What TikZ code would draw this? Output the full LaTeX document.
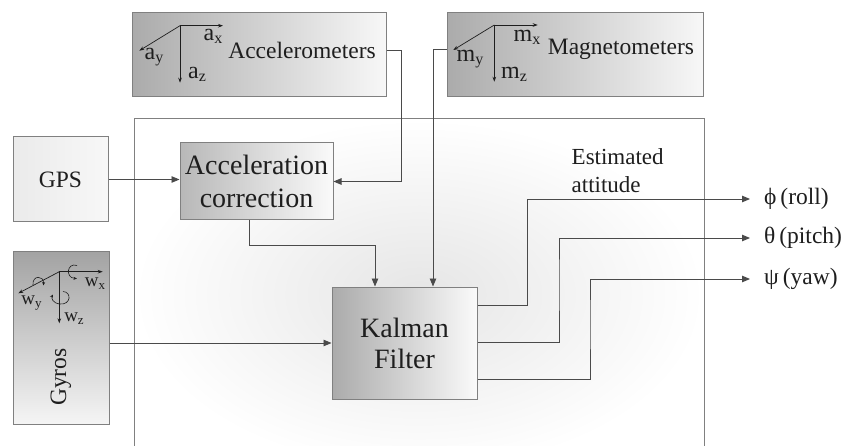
\documentclass[tikz,border=0pt]{standalone}
\usepackage{fontspec}
\setmainfont{Liberation Serif}
\newfontfamily\tnr{Liberation Serif}
\usetikzlibrary{arrows.meta}
\definecolor{bordc}{HTML}{808080}
\definecolor{linec}{HTML}{4A4A4A}
\definecolor{txtc}{HTML}{1E1E1E}
\newcommand{\axl}[3]{#1\raisebox{-3pt}{\fontsize{#3}{#3}\selectfont #2}}
\begin{document}
\begin{tikzpicture}[x=1pt,y=-1pt,
  box/.style={draw=bordc, line width=1pt, inner sep=0pt, text=txtc, align=center},
  conn/.style={draw=linec, line width=0.9pt},
  arr/.style={conn, -{Triangle[length=8pt,width=6.5pt]}},
  axisarr/.style={draw=txtc, line width=0.7pt, -{Stealth[length=5pt,width=3.6pt]}},
  rotarr/.style={draw=txtc, line width=0.6pt, -{Stealth[length=3.5pt,width=3pt]}},
  lbl/.style={text=txtc, inner sep=0pt},
  bigfont/.style={font=\tnr\fontsize{23.5}{28}\selectfont},
  axlab/.style={lbl, font=\tnr\fontsize{24}{24}\selectfont},
  gylab/.style={lbl, font=\tnr\fontsize{19}{19}\selectfont},
]
\useasboundingbox (0,0) rectangle (848,446);
\fill[white] (0,0) rectangle (848,446);

% large background frame
\shade[inner color=black!10, outer color=white] (134,119) rectangle (704,470);
\draw[draw=bordc, line width=1pt] (134,470) -- (134,119) -- (704,119) -- (704,470);

% sensor boxes
\node[box, minimum width=254pt, minimum height=84pt, left color=black!33, right color=black!3] (acc) at (259,55) {};
\node[box, minimum width=256pt, minimum height=84pt, left color=black!33, right color=black!3] (mag) at (575,55) {};
\node[box, minimum width=95pt, minimum height=85pt, left color=black!8, right color=black!3, bigfont] (gps) at (60.5,179.5) {GPS};
\node[box, minimum width=96pt, minimum height=172pt, top color=black!36, bottom color=black!4] (gyro) at (61,338) {};
\node[box, minimum width=153pt, minimum height=77pt, left color=black!28, right color=black!2, font=\tnr\fontsize{28}{33}\selectfont] (accorr) at (256.5,181.5) {Acceleration\\correction};
\node[box, minimum width=145pt, minimum height=112pt, left color=black!33, right color=black!2, font=\tnr\fontsize{28}{31}\selectfont] (kal) at (404.5,343) {Kalman\\Filter};

% box texts
\node[lbl, bigfont] (acctxt) at (302,50) {Accelerometers};
\node[lbl, bigfont] (magtxt) at (621,49) {Magnetometers};
\node[lbl, bigfont, rotate=90] (gytxt) at (61,377) {Gyros};
\node[lbl, font=\tnr\fontsize{23}{28}\selectfont, align=left, anchor=west] (est) at (571.5,171) {Estimated\\attitude};

% accelerometer axes
\coordinate (ao) at (180,25.7);
\draw[axisarr] (ao) -- (223,25.7);
\draw[axisarr] (ao) -- (139.3,50.7);
\draw[axisarr] (ao) -- (180,82.7);
\node[axlab] (ax) at (213,36) {\axl{a}{x}{16}};
\node[axlab] (ay) at (154,57) {\axl{a}{y}{16}};
\node[axlab] (az) at (197,74) {\axl{a}{z}{16}};

% magnetometer axes
\coordinate (mo) at (494.3,25);
\draw[axisarr] (mo) -- (537.7,25);
\draw[axisarr] (mo) -- (453.3,50);
\draw[axisarr] (mo) -- (494.3,81.7);
\node[axlab] (mx) at (527,37) {\axl{m}{x}{16}};
\node[axlab] (my) at (470,59) {\axl{m}{y}{16}};
\node[axlab] (mz) at (514,74) {\axl{m}{z}{16}};

% gyro axes
\coordinate (go) at (59.3,271.7);
\draw[axisarr] (go) -- (102.7,271.7);
\draw[axisarr] (go) -- (18.3,293.3);
\draw[axisarr] (go) -- (59.3,323.3);
\draw[rotarr] (77,265.5) .. controls (67,262) and (65,278) .. (77,278.5);
\draw[rotarr] (33,285) .. controls (32,275) and (44,275) .. (43.5,285.5);
\draw[rotarr] (63,291.5) .. controls (72,292) and (71,305) .. (60,304) .. controls (53,303.5) and (51,298) .. (53,294.5);
\node[gylab] (wx) at (95,284) {\axl{w}{x}{13}};
\node[gylab] (wy) at (31.5,303) {\axl{w}{y}{13}};
\node[gylab] (wz) at (74,319) {\axl{w}{z}{13}};

% output labels
\node[lbl, bigfont, anchor=west] (roll) at (764,199) {ϕ\,(roll)};
\node[lbl, bigfont, anchor=west] (pitch) at (764,238) {θ\,(pitch)};
\node[lbl, bigfont, anchor=west] (yaw) at (764,279) {ψ\,(yaw)};
\coordinate (rollend) at (750,199);
\coordinate (pitchend) at (750,238);
\coordinate (yawend) at (750,279);

% connectors
\draw[arr] (gps.east) -- (gps.east -| accorr.west);
\draw[arr] ([yshift=5pt]acc.east) -- (401,50) |- (accorr.east);
\draw[arr] ([yshift=6pt]mag.west) -| ([xshift=28.5pt]kal.north);
\draw[arr] ([xshift=-7.5pt]accorr.south) -- ++(0,25) -| ([xshift=-29.5pt]kal.north);
\draw[arr] (gyro.east |- kal.west) -- (kal.west);
\draw[arr] ([yshift=38pt]kal.east) -| (527.5,240) |- (rollend);
\draw[arr] ([yshift=1pt]kal.east) -| (559,280) |- (pitchend);
\draw[arr] ([yshift=-36pt]kal.east) -| (590,320) |- (yawend);
\end{tikzpicture}
\end{document}
